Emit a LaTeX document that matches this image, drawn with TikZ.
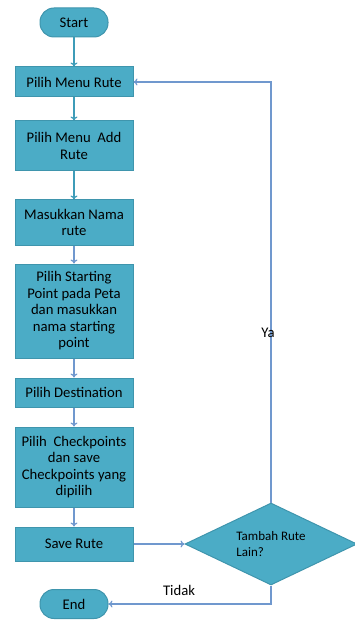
\documentclass[tikz,border=0pt]{standalone}
\usepackage{fontspec}
\setmainfont{Carlito}
\usetikzlibrary{positioning,shapes.geometric,arrows.meta}
\definecolor{boxfill}{HTML}{4BACC6}
\definecolor{boxline}{HTML}{3F95AD}
\definecolor{tealline}{HTML}{3E9CB8}
\definecolor{blueline}{HTML}{7098CE}
\begin{document}
\begin{tikzpicture}[
  x=1pt, y=-1pt,
  font=\fontsize{14.7}{16.5}\selectfont,
  terminal/.style={
    draw=boxline,
    fill=boxfill,
    line width=1pt,
    rounded corners=14pt,
    minimum width=68pt,
    minimum height=29pt,
    inner sep=0pt
  },
  stepbox/.style={
    draw=boxline,
    fill=boxfill,
    line width=1pt,
    align=center,
    minimum width=118pt,
    inner sep=3pt
  },
  decision/.style={
    draw=boxline,
    fill=boxfill,
    line width=1pt,
    diamond,
    aspect=2.1,
    align=left,
    minimum width=172pt,
    minimum height=82pt,
    inner sep=0pt,
    font=\fontsize{13}{16}\selectfont
  },
  arrow/.style={-{To[length=4pt,width=7pt]}, line width=1.2pt, tealline},
  barrow/.style={-{To[length=4pt,width=7pt]}, line width=1.2pt, blueline}
]
\useasboundingbox (0,0) rectangle (355,620);
\node[terminal] (start) at (74,22.5) {Start};
\node[stepbox, minimum height=30pt] (menu) [below=29pt of start] {Pilih Menu Rute};
\node[stepbox, minimum height=50pt] (add) [below=23pt of menu] {Pilih Menu\ \ Add\\Rute};
\node[stepbox, minimum height=45pt] (nama) [below=28pt of add] {Masukkan Nama\\rute};
\node[stepbox, minimum height=94pt] (startpt) [below=18pt of nama] {Pilih Starting\\Point pada Peta\\dan masukkan\\nama starting\\point};
\node[stepbox, minimum height=29pt] (dest) [below=19pt of startpt] {Pilih Destination};
\node[stepbox, minimum height=80pt] (check) [below=19pt of dest] {Pilih\ \ Checkpoints\\dan save\\Checkpoints yang\\dipilih};
\node[stepbox, minimum height=34pt] (save) [below=19pt of check] {Save Rute};
\node[decision] (lain) at (271,0 |- save) {Tambah Rute\\Lain?};
\node[terminal] (end) at (74,604) {End};
\coordinate (ya) at (lain.north |- menu.east);
\coordinate (tidak) at (lain.south |- end.east);

\draw[arrow] (start) -- (menu);
\draw[arrow] (menu) -- (add);
\draw[arrow] (add) -- (nama);
\draw[barrow] (nama) -- (startpt);
\draw[barrow] (startpt) -- (dest);
\draw[barrow] (dest) -- (check);
\draw[barrow] (check) -- (save);
\draw[barrow] (save) -- (lain);
\draw[barrow] (lain.north) -- (ya) -- (menu.east);
\draw[barrow] (lain.south) -- (tidak) -- (end.east);

\node at (268,333) {Ya};
\node at (179,590) {Tidak};
\end{tikzpicture}
\end{document}
